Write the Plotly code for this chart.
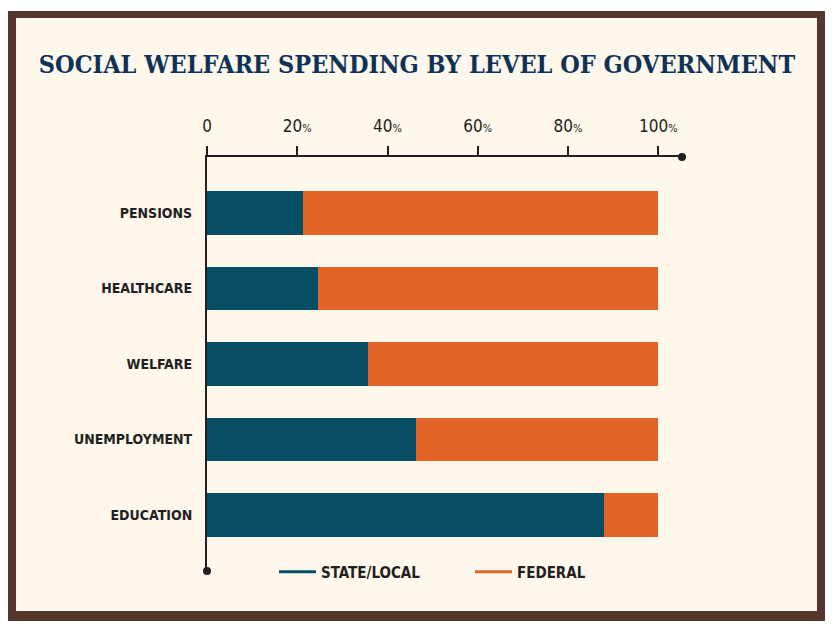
import plotly.graph_objects as go

# ── Data ──────────────────────────────────────────────────────────────────────

categories = ["PENSIONS", "HEALTHCARE", "WELFARE", "UNEMPLOYMENT", "EDUCATION"]
state_local = [21.2, 24.5, 35.6, 46.3, 87.9]
federal = [78.8, 75.5, 64.4, 53.7, 12.1]

tick_vals = [0, 20, 40, 60, 80, 100]
tick_text = ["0", "20", "40", "60", "80", "100"]

# ── Style ─────────────────────────────────────────────────────────────────────

TEAL = "#074d64"
ORANGE = "#e36427"
INK = "#231f20"
NAVY = "#0f3358"
CREAM = "#fdf7ec"
BROWN = "#55372e"
COND = "Liberation Sans Narrow, DejaVu Sans Condensed, Arial Narrow, sans-serif"

# the page puts the figure 8px in from the top-left corner
OFF = 8
W, H = 836, 630
L, T = 207 - OFF, 157 - OFF
R, B = W - (682 - OFF), H - (571 - OFF)
PW, PH = W - L - R, H - T - B


def px_x(px):
    return (px - OFF - L) / PW


def px_y(py):
    return 1 - (py - OFF - T) / PH


fig = go.Figure()
fig.add_trace(go.Bar(y=categories, x=state_local, orientation="h", name="STATE/LOCAL",
                     marker=dict(color=TEAL, line=dict(width=0)), showlegend=False))
fig.add_trace(go.Bar(y=categories, x=federal, orientation="h", name="FEDERAL",
                     marker=dict(color=ORANGE, line=dict(width=0)), showlegend=False))

# legend entries drawn as lines, like the original
for name, color in [("STATE/LOCAL", TEAL), ("FEDERAL", ORANGE)]:
    fig.add_trace(go.Scatter(x=[None], y=[None], mode="lines", name=name,
                             line=dict(color=color, width=3)))

pct = "<span style='font-size:11px'>%</span>"
fig.update_xaxes(
    range=[0, 105.25], side="top", tickvals=tick_vals,
    ticktext=[t if t == "0" else t + pct for t in tick_text],
    showgrid=False, zeroline=False, showline=True, linecolor=INK, linewidth=2,
    ticks="outside", ticklen=9, tickwidth=2, tickcolor=INK, ticklabelstandoff=7,
    tickfont=dict(family=COND, size=17, color=INK),
)
fig.update_yaxes(
    categoryorder="array", categoryarray=categories, range=[4.745, -0.745],
    showgrid=False, zeroline=False, showline=True, linecolor=INK, linewidth=2,
    ticks="", ticklabelstandoff=10,
    tickfont=dict(family=COND, size=14, color=INK, weight="bold"),
)

shapes = [
    dict(type="rect", xref="paper", yref="paper", layer="below",
         x0=px_x(8), x1=px_x(825), y0=px_y(621), y1=px_y(11),
         fillcolor=BROWN, line=dict(width=0)),
    dict(type="rect", xref="paper", yref="paper", layer="below",
         x0=px_x(16), x1=px_x(817), y0=px_y(611), y1=px_y(18),
         fillcolor=CREAM, line=dict(width=0)),
]
# round caps at the axis ends
for ax, ay in [(1, 1), (0, 0)]:
    shapes.append(dict(type="circle", xref="paper", yref="paper",
                       xsizemode="pixel", ysizemode="pixel",
                       xanchor=ax, yanchor=ay, x0=-4, x1=4, y0=-4, y1=4,
                       fillcolor=INK, line=dict(width=0)))

fig.update_layout(
    width=W, height=H,
    margin=dict(l=L, r=R, t=T, b=B, pad=0),
    paper_bgcolor="white", plot_bgcolor="rgba(0,0,0,0)",
    barmode="stack", bargap=0.42,
    title=dict(text="<b>SOCIAL WELFARE SPENDING BY LEVEL OF GOVERNMENT</b>",
               x=(417 - OFF) / W, xanchor="center", y=1 - (64 - OFF) / H,
               yanchor="middle",
               font=dict(family="DejaVu Serif Condensed, DejaVu Serif, serif",
                         size=25, color=NAVY)),
    legend=dict(orientation="h", x=px_x(274), y=px_y(572), xanchor="left",
                yanchor="middle", bgcolor="rgba(0,0,0,0)", entrywidth=144,
                traceorder="normal", itemwidth=37,
                font=dict(family=COND, size=15, color=INK, weight="bold")),
    shapes=shapes,
)

fig.write_html("out.html")
